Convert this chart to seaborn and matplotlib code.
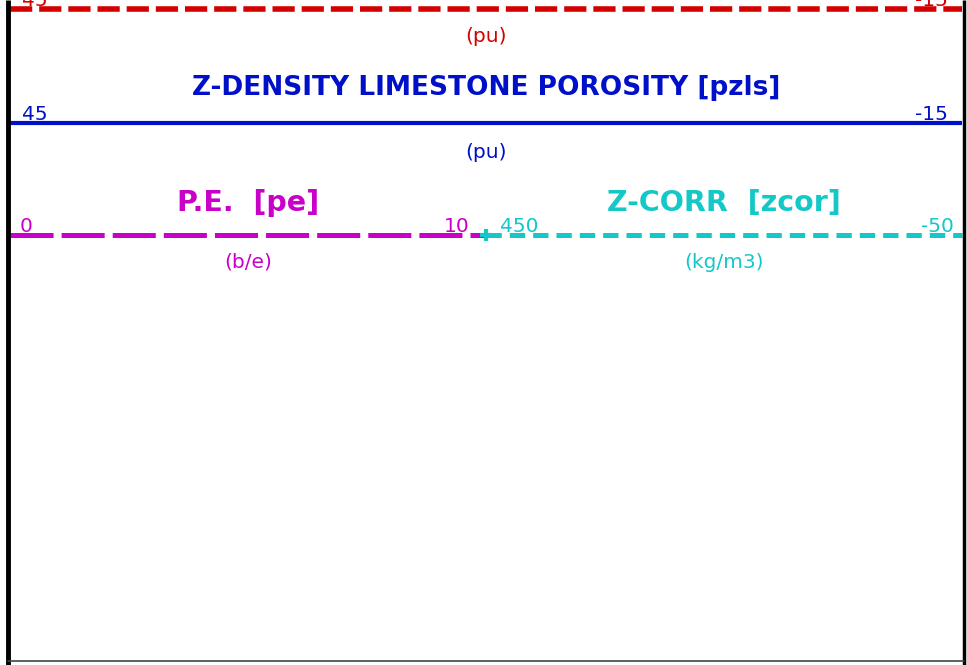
import matplotlib
matplotlib.use("Agg")
import matplotlib.pyplot as plt
import seaborn as sns

# log header: one entry per curve (top to bottom)
curve_titles = ["", "Z-DENSITY LIMESTONE POROSITY [pzls]", "P.E.  [pe]", "Z-CORR  [zcor]"]
curve_units = ["(pu)", "(pu)", "(b/e)", "(kg/m3)"]
left_values = ["45", "45", "0", "450"]
right_values = ["-15", "-15", "10", "-50"]
curve_colors = ["#d40000", "#0010c8", "#c800c8", "#14c8c8"]

sns.set_theme(style="white")
plt.rcParams["font.family"] = ["DejaVu Sans"]
plt.rcParams["lines.scale_dashes"] = False

W, H = 967, 665
fig = plt.figure(figsize=(W / 100, H / 100), dpi=100)
ax = fig.add_axes([0, 0, 1, 1])
ax.set_xlim(0, W)
ax.set_ylim(H, 0)
ax.axis("off")

# layout in pixels: (x0, x1, line y, title y, unit y, dash pattern, lw pt, title size, left pad, right pad)
layout = [
    (10, 962, 9, None, 37, (16, 5), 4.0, 19, 12, 14),
    (10, 962, 123, 88, 152, None, 3.0, 19, 12, 14),
    (10, 486, 235, 203, 262, (31, 5.8), 3.6, 20.5, 10, 16),
    (486, 962, 235, 203, 262, (11, 5.8), 3.6, 20.5, 14, 8),
]

for i, (x0, x1, y, ty, uy, dash, lw, tsize, lpad, rpad) in enumerate(layout):
    c = curve_colors[i]
    line, = ax.plot([x0, x1], [y, y], color=c, lw=lw, solid_capstyle="butt",
                    dash_capstyle="butt")
    if dash is not None:
        line.set_dashes(dash)
    xm = (x0 + x1) / 2
    if curve_titles[i]:
        ax.text(xm, ty, curve_titles[i], color=c, ha="center", va="center",
                fontsize=tsize, fontweight="bold")
    ax.text(xm, uy, curve_units[i], color=c, ha="center", va="center", fontsize=14.5)
    ax.text(x0 + lpad, y - 3, left_values[i], color=c, ha="left", va="baseline", fontsize=14.5)
    ax.text(x1 - rpad, y - 3, right_values[i], color=c, ha="right", va="baseline", fontsize=14.5)

# little joint marker between the two half-track scales
ax.plot([486], [235], marker="+", ms=9, mew=3, color=curve_colors[3])

# track border
ax.plot([8, 8], [0, H], color="black", lw=3.5, solid_capstyle="butt")
ax.plot([964, 964], [0, H], color="black", lw=2.5, solid_capstyle="butt")
ax.plot([8, 964], [661, 661], color="#444444", lw=1.2)

fig.savefig("out.png", dpi=100)
